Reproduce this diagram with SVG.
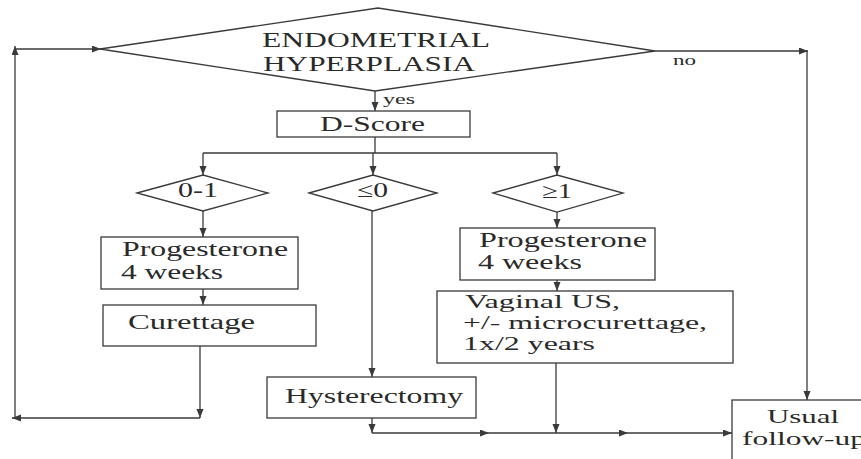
<svg xmlns="http://www.w3.org/2000/svg" width="861" height="459" viewBox="0 0 861 459">
<style>
.s{fill:none;stroke:#3a3a3a;stroke-width:1.3}
.b{fill:#fff;stroke:#3a3a3a;stroke-width:1.3}
.c{fill:none;stroke:#3a3a3a;stroke-width:1.3;marker-end:url(#ah)}
.t{font-family:'Liberation Serif','Times New Roman','DejaVu Serif',serif;fill:#2a2a2a;font-size:21px}
.sm{font-size:15px}
.v{font-size:19px}
</style>
<defs>
<marker id="ah" markerUnits="userSpaceOnUse" markerWidth="10" markerHeight="8" refX="9" refY="3.5" orient="auto">
<path d="M0,0 L9,3.5 L0,7 z" fill="#3a3a3a"/>
</marker>
</defs>
<rect width="861" height="459" fill="#fff"/>
<g id="connectors">
<line class="c" x1="375" y1="91" x2="375" y2="111"/>
<polyline class="s" points="375,137 375,153"/>
<polyline class="s" points="203,153 557,153"/>
<line class="c" x1="203" y1="153" x2="203" y2="175"/>
<line class="c" x1="373" y1="153" x2="373" y2="175"/>
<line class="c" x1="557" y1="153" x2="557" y2="175"/>
<line class="c" x1="203" y1="211" x2="203" y2="237"/>
<line class="c" x1="203" y1="289" x2="203" y2="305"/>
<line class="c" x1="557" y1="212" x2="557" y2="228"/>
<line class="c" x1="557" y1="280" x2="557" y2="291"/>
<line class="c" x1="372" y1="211" x2="372" y2="377"/>
<line class="c" x1="372" y1="418" x2="372" y2="433"/>
<line class="c" x1="372" y1="433" x2="489" y2="433"/>
<line class="c" x1="489" y1="433" x2="628" y2="433"/>
<line class="c" x1="628" y1="433" x2="732" y2="433"/>
<line class="c" x1="556" y1="363" x2="556" y2="433"/>
<line class="c" x1="200" y1="346" x2="200" y2="418"/>
<line class="c" x1="200" y1="418" x2="12" y2="418"/>
<line class="c" x1="15" y1="418" x2="15" y2="46"/>
<line class="c" x1="15" y1="49" x2="101" y2="49"/>
<line class="c" x1="655" y1="51" x2="808" y2="51"/>
<line class="c" x1="807" y1="51" x2="807" y2="400"/>
<text class="t sm" x="383" y="104" textLength="32" lengthAdjust="spacingAndGlyphs">yes</text>
<text class="t sm" x="673" y="65" textLength="23" lengthAdjust="spacingAndGlyphs">no</text>
</g>
<g id="hyperplasia">
<polygon class="b" points="100,49 378,8 655,51 375,91"/>
<text class="t" x="262" y="47" textLength="228" lengthAdjust="spacingAndGlyphs">ENDOMETRIAL</text>
<text class="t" x="263" y="71" textLength="212" lengthAdjust="spacingAndGlyphs">HYPERPLASIA</text>
</g>
<g id="dscore">
<rect class="b" x="277" y="111" width="193" height="26"/>
<text class="t" x="320" y="131" textLength="105" lengthAdjust="spacingAndGlyphs">D-Score</text>
</g>
<g id="d01">
<polygon class="b" points="137,193 203,175 268,193 203,211"/>
<text class="t" x="178" y="197" textLength="40" lengthAdjust="spacingAndGlyphs">0-1</text>
</g>
<g id="dle0">
<polygon class="b" points="309,193 373,175 437,193 373,211"/>
<text class="t" x="357" y="197" textLength="31" lengthAdjust="spacingAndGlyphs">≤0</text>
</g>
<g id="dge1">
<polygon class="b" points="493,193 557,175 623,193 557,212"/>
<text class="t" x="542" y="198" textLength="30" lengthAdjust="spacingAndGlyphs">≥1</text>
</g>
<g id="prog1">
<rect class="b" x="101" y="237" width="197" height="52"/>
<text class="t" x="122" y="256" textLength="166" lengthAdjust="spacingAndGlyphs">Progesterone</text>
<text class="t" x="121" y="279" textLength="102" lengthAdjust="spacingAndGlyphs">4 weeks</text>
</g>
<g id="curettage">
<rect class="b" x="103" y="305" width="213" height="41"/>
<text class="t" x="128" y="329" textLength="127" lengthAdjust="spacingAndGlyphs">Curettage</text>
</g>
<g id="hysterectomy">
<rect class="b" x="267" y="377" width="209" height="41"/>
<text class="t" x="285" y="403" textLength="178" lengthAdjust="spacingAndGlyphs">Hysterectomy</text>
</g>
<g id="prog2">
<rect class="b" x="460" y="228" width="195" height="52"/>
<text class="t" x="479" y="247" textLength="168" lengthAdjust="spacingAndGlyphs">Progesterone</text>
<text class="t" x="478" y="269" textLength="104" lengthAdjust="spacingAndGlyphs">4 weeks</text>
</g>
<g id="vaginal">
<rect class="b" x="437" y="291" width="296" height="72"/>
<text class="t v" x="465" y="308" textLength="155" lengthAdjust="spacingAndGlyphs">Vaginal US,</text>
<text class="t v" x="463" y="329" textLength="244" lengthAdjust="spacingAndGlyphs">+/- microcurettage,</text>
<text class="t v" x="463" y="350" textLength="132" lengthAdjust="spacingAndGlyphs">1x/2 years</text>
</g>
<g id="usual">
<rect class="b" x="732" y="400" width="160" height="80"/>
<text class="t v" x="767" y="423" textLength="72" lengthAdjust="spacingAndGlyphs">Usual</text>
<text class="t v" x="742" y="445" textLength="124" lengthAdjust="spacingAndGlyphs">follow-up</text>
</g>
</svg>
